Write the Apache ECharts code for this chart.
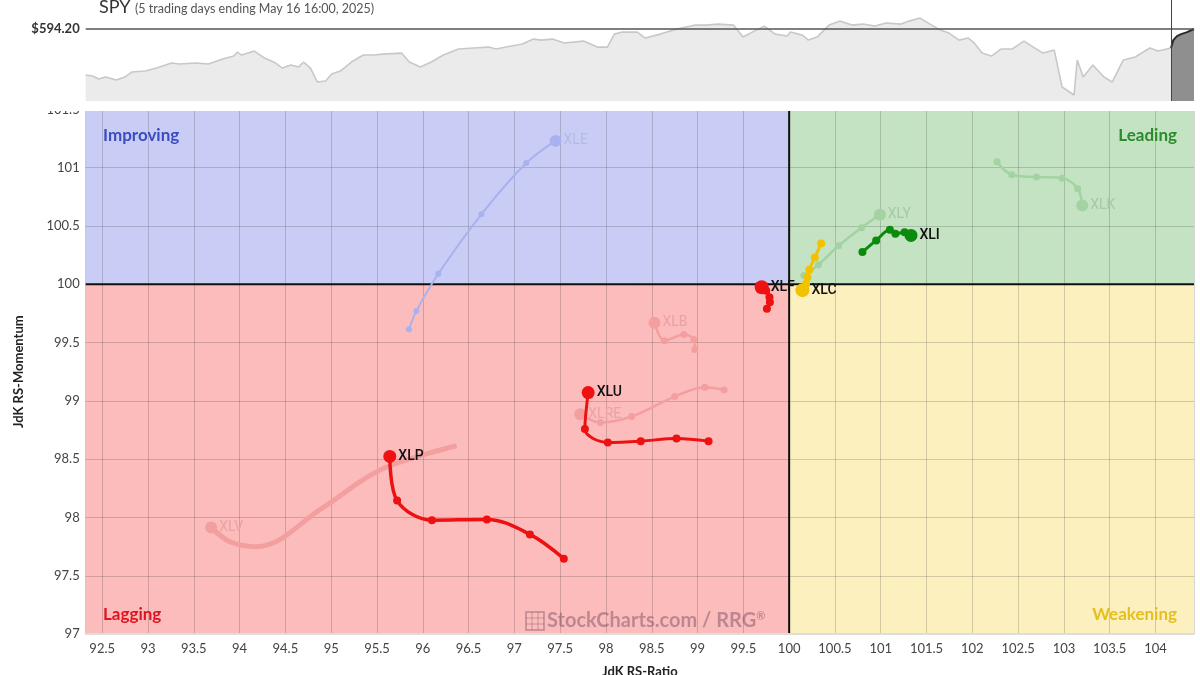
<!DOCTYPE html>
<html><head><meta charset="utf-8">
<script src="https://cdn.jsdelivr.net/npm/echarts@6/dist/echarts.min.js"></script>
<style>html,body{margin:0;padding:0;background:#fff;overflow:hidden}#c{width:1200px;height:675px}</style>
</head><body><div id="c"></div>
<script>
// ---- SPY price panel (trading-day index, close) ----
const spyDays = [0,1.5,2.8,4.3,6.7,8.5,10,13,15.4,18.7,20.4,23.9,26.7,29.8,32.2,33,33.9,36.7,38.9,41.3,42.8,44.6,46.3,47.4,48.9,50.4,52.2,53.5,55.4,57.8,60.4,62.8,64.6,68.7,70.4,72.8,75.2,77.8,81.1,84.3,87.6,89.3,92.6,95,97.4,99.1,101.5,104.1,108.3,111.3,113.5,115,116.7,120,121.7,125,128.5,132.6,135,137.6,140.9,143,145,147.6,150,152.6,153.3,155.9,157.2,159.1,161.7,164.1,166.7,169.1,171.7,174.1,177.4,179.1,181.5,183.3,185.9,187.8,190,192,193.3,195,197,199.1,201.5,204.1,206.5,208.3,210.7,212.4,215,215.7,217,219.1,221.5,223.3,225.7,228.3,231.5,233.3,236.1];
const spyPrices = [521.2,519.6,514.8,518.0,513.3,518.0,525.9,527.5,532.3,540.2,538.6,540.2,538.6,546.5,551.3,557.6,552.9,559.2,548.1,540.2,532.3,537.0,533.9,541.8,532.3,510.1,511.7,522.8,527.5,541.8,552.9,552.9,554.4,556.0,541.8,533.9,541.8,552.9,562.4,564.0,565.5,562.4,567.1,570.3,578.2,576.6,578.2,571.9,575.0,565.5,565.5,586.1,589.3,589.3,579.8,586.1,594.0,600.4,600.4,602.0,600.4,581.4,589.3,598.8,586.1,583.0,589.3,584.5,576.6,581.4,600.4,606.7,600.4,602.0,598.8,603.6,602.0,606.7,611.5,603.6,592.5,587.7,576.6,579.8,571.9,556.0,551.3,562.4,562.4,575.0,563.9,556.0,560.8,502.2,489.5,544.9,518.0,537.0,518.0,510.1,544.9,549.7,564.0,559.2,564.0];
const spyRecentDays = [236.1,236.6,237.4,238.3,239.6,241.1];
const spyRecentPrices = [564.0,576.6,582.9,586.1,589.3,594.2];

// ---- RRG axes ----
const CENTER = 100;
const ratioMin = 92.32, ratioMax = 104.42;
const momMin = 97, momMax = 101.5;
const quadrantNames = ['Improving','Leading','Lagging','Weakening'];

// ---- RRG tails (JdK RS-Ratio, JdK RS-Momentum), oldest -> latest ----
const xleRatio = [95.85,95.93,96.17,96.64,97.13,97.45];
const xleMom   = [99.615,99.77,100.09,100.60,101.04,101.23];
const xlkRatio = [102.27,102.43,102.70,102.98,103.15,103.20];
const xlkMom   = [101.05,100.94,100.92,100.91,100.82,100.675];
const xlyRatio = [100.16,100.32,100.54,100.79,100.99];
const xlyMom   = [100.075,100.168,100.33,100.485,100.596];
const xliRatio = [100.80,100.95,101.10,101.16,101.26,101.33];
const xliMom   = [100.276,100.376,100.467,100.433,100.447,100.419];
const xlcRatio = [100.35,100.28,100.22,100.20,100.185,100.145];
const xlcMom   = [100.35,100.23,100.125,100.06,100.005,99.95];
const xlfRatio = [99.757,99.79,99.785,99.75,99.70];
const xlfMom   = [99.79,99.845,99.89,99.945,99.975];
const xlbRatio = [98.97,98.96,98.85,98.64,98.53];
const xlbMom   = [99.44,99.527,99.57,99.515,99.67];
const xluRatio = [99.12,98.77,98.38,98.02,97.77,97.806];
const xluMom   = [98.655,98.678,98.655,98.644,98.758,99.071];
const xlreRatio = [99.29,99.08,98.75,98.28,97.94,97.72];
const xlreMom   = [99.094,99.117,99.037,98.866,98.815,98.886];
const xlpRatio = [97.54,97.17,96.70,96.10,95.72,95.64];
const xlpMom   = [97.647,97.855,97.983,97.977,98.145,98.524];
const xlvRatio = [96.37,95.54,94.91,94.19,93.90,93.69];
const xlvMom   = [98.615,98.41,98.085,97.75,97.79,97.915];

const F = 'Lato, "Noto Sans", sans-serif';

function trail(name, ratio, mom, st) {
  const n = ratio.length;
  return {
    type: 'line', name: name, xAxisIndex: 0, yAxisIndex: 0,
    smooth: 0.35, symbol: 'circle', showSymbol: true, z: st.z,
    lineStyle: { color: st.color, width: st.width },
    itemStyle: { color: st.color },
    emphasis: { disabled: true },
    data: ratio.map((r, i) => {
      const last = i === n - 1;
      const d = { value: [r, mom[i]], symbolSize: last ? st.head : (st.dot || 0) };
      if (last) d.label = { show: true, position: 'right', distance: 2, formatter: name,
        color: st.labelColor, fontSize: 14, fontWeight: st.bold ? 500 : 400, fontFamily: 'Roboto, "Open Sans", sans-serif' };
      return d;
    })
  };
}

const fadedBlue = '#a9b1ee', fadedGreen = '#a3d2a3', fadedRed = '#f39f9f';
const series = [
  {
    type: 'custom', xAxisIndex: 0, yAxisIndex: 0, z: -1, silent: true,
    data: [[CENTER, CENTER]],
    renderItem: function (params, api) {
      const cs = params.coordSys;
      const c = api.coord([CENTER, CENTER]);
      const x0 = cs.x, y0 = cs.y, x1 = cs.x + cs.width, y1 = cs.y + cs.height;
      const fills = ['#c9cdf5', '#c3e3c3', '#fcbcbc', '#fcf0bf'];
      const rects = [[x0, y0, c[0], c[1]], [c[0], y0, x1, c[1]], [x0, c[1], c[0], y1], [c[0], c[1], x1, y1]];
      const children = rects.map((r, i) => ({ type: 'rect', shape: { x: r[0], y: r[1], width: r[2] - r[0], height: r[3] - r[1] }, style: { fill: fills[i] } }));
      children.push({ type: 'line', shape: { x1: c[0], y1: y0, x2: c[0], y2: y1 }, style: { stroke: '#111', lineWidth: 2 } });
      children.push({ type: 'line', shape: { x1: x0, y1: c[1], x2: x1, y2: c[1] }, style: { stroke: '#111', lineWidth: 2 } });
      return { type: 'group', children: children };
    }
  },
  trail('XLV', xlvRatio, xlvMom, { color: fadedRed, width: 5, dot: 0, head: 12, labelColor: '#eaa2a2', z: 2 }),
  trail('XLE', xleRatio, xleMom, { color: fadedBlue, width: 2, dot: 6, head: 12, labelColor: '#b4bae6', z: 2 }),
  trail('XLK', xlkRatio, xlkMom, { color: fadedGreen, width: 2.5, dot: 7, head: 12, labelColor: '#a6c8a6', z: 2 }),
  trail('XLY', xlyRatio, xlyMom, { color: fadedGreen, width: 2.5, dot: 7, head: 12, labelColor: '#a6c8a6', z: 2 }),
  trail('XLB', xlbRatio, xlbMom, { color: fadedRed, width: 2.5, dot: 7, head: 12, labelColor: '#eaa2a2', z: 2 }),
  trail('XLRE', xlreRatio, xlreMom, { color: fadedRed, width: 2.5, dot: 7, head: 12, labelColor: '#eaa2a2', z: 2 }),
  trail('XLP', xlpRatio, xlpMom, { color: '#ee1111', width: 3.5, dot: 8, head: 13, labelColor: '#111', bold: true, z: 3 }),
  trail('XLU', xluRatio, xluMom, { color: '#ee1111', width: 3, dot: 8, head: 13, labelColor: '#111', bold: true, z: 3 }),
  trail('XLF', xlfRatio, xlfMom, { color: '#ee1111', width: 3, dot: 8, head: 14, labelColor: '#111', bold: true, z: 3 }),
  trail('XLC', xlcRatio, xlcMom, { color: '#f2c200', width: 3, dot: 8, head: 14, labelColor: '#111', bold: true, z: 3 }),
  trail('XLI', xliRatio, xliMom, { color: '#0b8a0b', width: 3, dot: 8, head: 13, labelColor: '#111', bold: true, z: 3 }),
  // SPY panel
  {
    type: 'line', xAxisIndex: 1, yAxisIndex: 1, symbol: 'none', z: 3,
    data: spyDays.map((d, i) => [d, spyPrices[i]]),
    lineStyle: { color: '#c8c8c8', width: 1.6 },
    areaStyle: { color: '#ebebeb', origin: 'start', opacity: 1 },
    markLine: {
      silent: true, symbol: ['none', 'none'], animation: false,
      data: [
        { yAxis: spyRecentPrices[spyRecentPrices.length - 1],
          lineStyle: { color: '#555', width: 1.6, type: 'solid' },
          label: { show: true, position: 'start', distance: 6, formatter: '$' + spyRecentPrices[spyRecentPrices.length - 1].toFixed(2),
                   color: '#333', fontSize: 13, fontWeight: 'bold', fontFamily: F } },
        { xAxis: spyRecentDays[0], lineStyle: { color: '#444', width: 1, type: 'solid' }, label: { show: false } }
      ]
    }
  },
  {
    type: 'line', xAxisIndex: 1, yAxisIndex: 1, symbol: 'none', z: 4,
    data: spyRecentDays.map((d, i) => [d, spyRecentPrices[i]]),
    lineStyle: { color: '#2a2a2a', width: 2 },
    areaStyle: { color: '#8f8f8f', origin: 'start', opacity: 1 }
  }
];

const chart = echarts.init(document.getElementById('c'), null, { renderer: 'canvas', width: 1200, height: 675 });
chart.setOption({
  animation: false,
  backgroundColor: '#ffffff',
  grid: [
    { left: 85.7, width: 1108.3, top: 109.4, height: 524.7, containLabel: false, outerBoundsMode: 'none' },
    { left: 85.7, width: 1108.3, top: 0, height: 101, containLabel: false, outerBoundsMode: 'none' }
  ],
  xAxis: [
    { type: 'value', gridIndex: 0, min: ratioMin, max: ratioMax, splitNumber: 24,
      name: 'JdK RS-Ratio', nameLocation: 'middle', nameGap: 31,
      nameTextStyle: { fontFamily: F, fontWeight: 'bold', fontSize: 13, color: '#222' },
      axisLine: { show: true, lineStyle: { color: '#dddddd', width: 2 } }, axisTick: { show: false },
      axisLabel: { fontFamily: F, fontSize: 13, color: '#444', margin: 8, showMinLabel: false, showMaxLabel: false },
      splitLine: { show: true, lineStyle: { color: 'rgba(0,0,0,0.16)', width: 1 } } },
    { type: 'value', gridIndex: 1, min: 0, max: 241.1, show: false }
  ],
  yAxis: [
    { type: 'value', gridIndex: 0, min: momMin, max: momMax, interval: 0.5,
      name: 'JdK RS-Momentum', nameLocation: 'middle', nameGap: 60, nameRotate: 90,
      nameTextStyle: { fontFamily: F, fontWeight: 'bold', fontSize: 13, color: '#222' },
      axisLine: { show: false }, axisTick: { show: false },
      axisLabel: { fontFamily: F, fontSize: 13, color: '#444', margin: 6 },
      splitLine: { show: true, lineStyle: { color: 'rgba(0,0,0,0.16)', width: 1 } } },
    { type: 'value', gridIndex: 1, min: 480, max: 640.2, show: false }
  ],
  title: { show: false },
  series: series,
  graphic: { elements: [
    { type: 'rect', z: 100, silent: true, shape: { x: 0, y: 101.5, width: 1200, height: 9.5 }, style: { fill: '#ffffff' } },
    { type: 'text', z: 101, style: { text: 'SPY', x: 99, y: 16, fill: '#333', fontSize: 18, fontFamily: F, align: 'left', verticalAlign: 'bottom' } },
    { type: 'text', z: 101, style: { text: '(5 trading days ending May 16 16:00, 2025)', x: 135, y: 15, fill: '#555', fontSize: 12.5, fontFamily: F, align: 'left', verticalAlign: 'bottom' } },
    { type: 'text', z: 50, style: { text: quadrantNames[0], x: 103, y: 136, fill: '#3b4cc0', fontSize: 17, fontWeight: 'bold', fontFamily: F, align: 'left', verticalAlign: 'middle' } },
    { type: 'text', z: 50, style: { text: quadrantNames[1], x: 1177, y: 136, fill: '#2a8c2a', fontSize: 17, fontWeight: 'bold', fontFamily: F, align: 'right', verticalAlign: 'middle' } },
    { type: 'text', z: 50, style: { text: quadrantNames[2], x: 103, y: 615, fill: '#e0141e', fontSize: 17, fontWeight: 'bold', fontFamily: F, align: 'left', verticalAlign: 'middle' } },
    { type: 'text', z: 50, style: { text: quadrantNames[3], x: 1177, y: 615, fill: '#e6bf1e', fontSize: 17, fontWeight: 'bold', fontFamily: F, align: 'right', verticalAlign: 'middle' } },
    { type: 'rect', z: 50, silent: true, shape: { x: 526, y: 612, width: 18, height: 18 }, style: { fill: 'none', stroke: 'rgba(110,70,90,0.45)', lineWidth: 1.5 } },
    { type: 'line', z: 50, silent: true, shape: { x1: 532, y1: 612, x2: 532, y2: 630 }, style: { stroke: 'rgba(110,70,90,0.35)', lineWidth: 1 } },
    { type: 'line', z: 50, silent: true, shape: { x1: 538, y1: 612, x2: 538, y2: 630 }, style: { stroke: 'rgba(110,70,90,0.35)', lineWidth: 1 } },
    { type: 'line', z: 50, silent: true, shape: { x1: 526, y1: 618, x2: 544, y2: 618 }, style: { stroke: 'rgba(110,70,90,0.35)', lineWidth: 1 } },
    { type: 'line', z: 50, silent: true, shape: { x1: 526, y1: 624, x2: 544, y2: 624 }, style: { stroke: 'rgba(110,70,90,0.35)', lineWidth: 1 } },
    { type: 'text', z: 50, style: { text: '{a|StockCharts.com / RRG}{b|®}', x: 547, y: 621, align: 'left', verticalAlign: 'middle',
      rich: { a: { fontSize: 20, fontWeight: 'bold', fontFamily: F, fill: 'rgba(110,70,90,0.45)', color: 'rgba(110,70,90,0.45)' },
              b: { fontSize: 11, fontWeight: 'bold', fontFamily: F, fill: 'rgba(110,70,90,0.45)', color: 'rgba(110,70,90,0.45)', verticalAlign: 'top', padding: [0,0,10,0] } } } }
  ] }
});
</script>
</body></html>
